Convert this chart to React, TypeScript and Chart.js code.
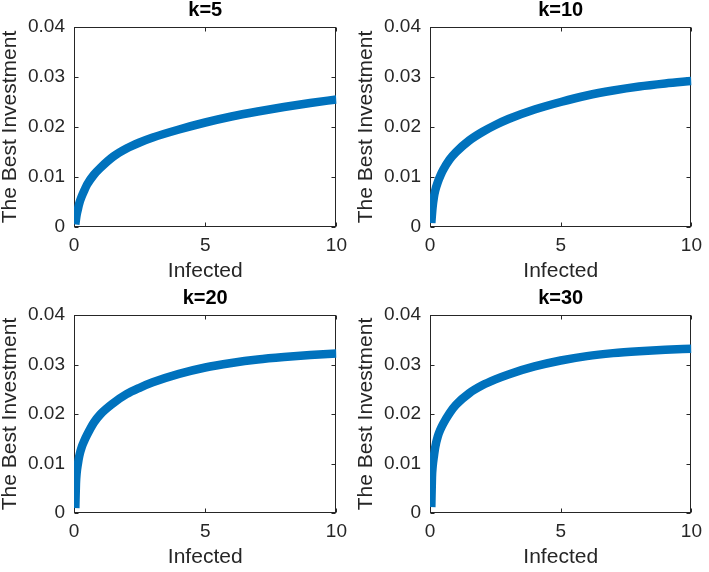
import React, { useEffect, useRef } from 'react';
import { Chart, registerables } from 'chart.js';

Chart.register(...registerables);

// ---- data ----
const infected = [0.05, 0.075, 0.1, 0.15, 0.2, 0.3, 0.4, 0.5, 0.75, 1, 1.5, 2, 2.5, 3, 4, 5, 6, 7, 8, 9, 10];
const investK5 = [0.0005, 0.0015, 0.0024, 0.0036, 0.0047, 0.0062, 0.0074, 0.0085, 0.0104, 0.0118, 0.0141, 0.0157, 0.0169, 0.0179, 0.0195, 0.0209, 0.0221, 0.0231, 0.0240, 0.0248, 0.0255];
const investK10 = [0.0008, 0.0025, 0.0040, 0.0060, 0.0073, 0.0090, 0.0103, 0.0114, 0.0135, 0.0150, 0.0173, 0.0190, 0.0204, 0.0216, 0.0235, 0.0250, 0.0263, 0.0273, 0.0281, 0.0287, 0.0292];
const investK20 = [0.0010, 0.0060, 0.0080, 0.0100, 0.0115, 0.0134, 0.0147, 0.0158, 0.0182, 0.0199, 0.0222, 0.0240, 0.0253, 0.0264, 0.0281, 0.0294, 0.0303, 0.0310, 0.0315, 0.0319, 0.0322];
const investK30 = [0.0012, 0.0072, 0.0093, 0.0115, 0.0133, 0.0155, 0.0169, 0.0180, 0.0202, 0.0219, 0.0242, 0.0258, 0.0270, 0.0280, 0.0296, 0.0308, 0.0317, 0.0323, 0.0327, 0.0330, 0.0332];
const panelTitles = ['k=5', 'k=10', 'k=20', 'k=30'];
const xTickValues = [0, 5, 10];
const xTickLabels = ['0', '5', '10'];
const yTickValues = [0, 0.01, 0.02, 0.03, 0.04];
const yTickLabels = ['0', '0.01', '0.02', '0.03', '0.04'];
const xAxisLabel = 'Infected';
const yAxisLabel = 'The Best Investment';

const FONT = "'Liberation Sans', Arial, Helvetica, sans-serif";
const LINE_COLOR = '#0072BD';
const AXIS_COLOR = '#262626';

const matlabBox = {
  id: 'matlabBox',
  beforeDatasetsDraw(chart: any) {
    const { ctx, chartArea: a, scales } = chart;
    const l = Math.round(a.left) + 0.5;
    const r = Math.round(a.right) - 0.5;
    const t = Math.round(a.top) + 0.5;
    const b = Math.round(a.bottom) - 0.5;
    ctx.save();
    ctx.strokeStyle = AXIS_COLOR;
    ctx.lineWidth = 1;
    ctx.strokeRect(l, t, r - l, b - t);
    const tl = 4;
    ctx.beginPath();
    xTickValues.forEach((v) => {
      const px = Math.round(scales.x.getPixelForValue(v)) + 0.5;
      ctx.moveTo(px, b); ctx.lineTo(px, b - tl);
      ctx.moveTo(px, t); ctx.lineTo(px, t + tl);
    });
    yTickValues.forEach((v) => {
      const py = Math.round(scales.y.getPixelForValue(v)) + 0.5;
      ctx.moveTo(l, py); ctx.lineTo(l + tl, py);
      ctx.moveTo(r, py); ctx.lineTo(r - tl, py);
    });
    ctx.stroke();
    ctx.restore();
  },
};

type PanelProps = { title: string; values: number[]; left: number; top: number; width: number; height: number; padRight: number };

function Panel({ title, values, left, top, width, height, padRight }: PanelProps) {
  const ref = useRef<HTMLCanvasElement | null>(null);
  useEffect(() => {
    if (!ref.current) return;
    const chart = new Chart(ref.current, {
      type: 'line',
      data: {
        datasets: [
          {
            data: infected.map((x, i) => ({ x, y: values[i] })),
            borderColor: LINE_COLOR,
            backgroundColor: LINE_COLOR,
            borderWidth: 8.5,
            pointRadius: 0,
            borderCapStyle: 'butt',
            cubicInterpolationMode: 'monotone',
            fill: false,
          },
        ],
      },
      options: {
        animation: false,
        responsive: false,
        maintainAspectRatio: false,
        layout: { padding: { left: 0, top: 0, bottom: 0, right: padRight } },
        plugins: { legend: { display: false }, tooltip: { enabled: false }, title: { display: false } },
        scales: {
          x: {
            type: 'linear',
            position: 'bottom',
            min: 0,
            max: 10,
            afterBuildTicks: (s: any) => { s.ticks = xTickValues.map((v) => ({ value: v })); },
            afterFit: (s: any) => { s.height = 59; },
            grid: { display: false, drawTicks: false },
            border: { display: false },
            ticks: {
              padding: 7,
              color: AXIS_COLOR,
              font: { family: FONT, size: 19 },
              maxRotation: 0,
              callback: (_v: any, i: number) => xTickLabels[i],
            },
            title: {
              display: true,
              text: xAxisLabel,
              color: AXIS_COLOR,
              font: { family: FONT, size: 21, lineHeight: 1.2 },
              padding: { top: 0, bottom: 2 },
            },
          },
          x2: {
            type: 'linear',
            position: 'top',
            min: 0,
            max: 10,
            afterFit: (s: any) => { s.height = 27; },
            grid: { display: false, drawTicks: false },
            border: { display: false },
            ticks: { display: false },
            title: {
              display: true,
              text: title,
              color: '#000',
              font: { family: FONT, size: 20, weight: 'bold', lineHeight: 1.0 },
              padding: { top: 0, bottom: 7 },
            },
          },
          y: {
            type: 'linear',
            position: 'left',
            min: 0,
            max: 0.04,
            afterBuildTicks: (s: any) => { s.ticks = yTickValues.map((v) => ({ value: v })); },
            afterFit: (s: any) => { s.width = 74; },
            grid: { display: false, drawTicks: false },
            border: { display: false },
            ticks: {
              padding: 9,
              color: AXIS_COLOR,
              font: { family: FONT, size: 19 },
              callback: (_v: any, i: number) => yTickLabels[i],
            },
            title: {
              display: true,
              text: yAxisLabel,
              color: AXIS_COLOR,
              font: { family: FONT, size: 21, lineHeight: 1.0 },
              padding: { top: 0, bottom: 0 },
            },
          },
        },
      },
      plugins: [matlabBox],
    } as any);
    return () => chart.destroy();
  }, [title, values, width, height, padRight]);

  return (
    <div style={{ position: 'absolute', left, top, width, height }}>
      <canvas ref={ref} width={width} height={height} style={{ display: 'block', width, height }} />
    </div>
  );
}

export default function App() {
  const series = [investK5, investK10, investK20, investK30];
  const layout = [
    { left: 0, top: 0, width: 354, height: 286, padRight: 15 },
    { left: 356, top: 0, width: 353, height: 286, padRight: 12 },
    { left: 0, top: 288, width: 354, height: 284, padRight: 15 },
    { left: 356, top: 288, width: 353, height: 284, padRight: 12 },
  ];
  return (
    <div style={{ position: 'absolute', left: 0, top: 0, width: 709, height: 572, background: '#fff', overflow: 'hidden' }}>
      {series.map((vals, i) => (
        <Panel key={i} title={panelTitles[i]} values={vals} {...layout[i]} />
      ))}
    </div>
  );
}
